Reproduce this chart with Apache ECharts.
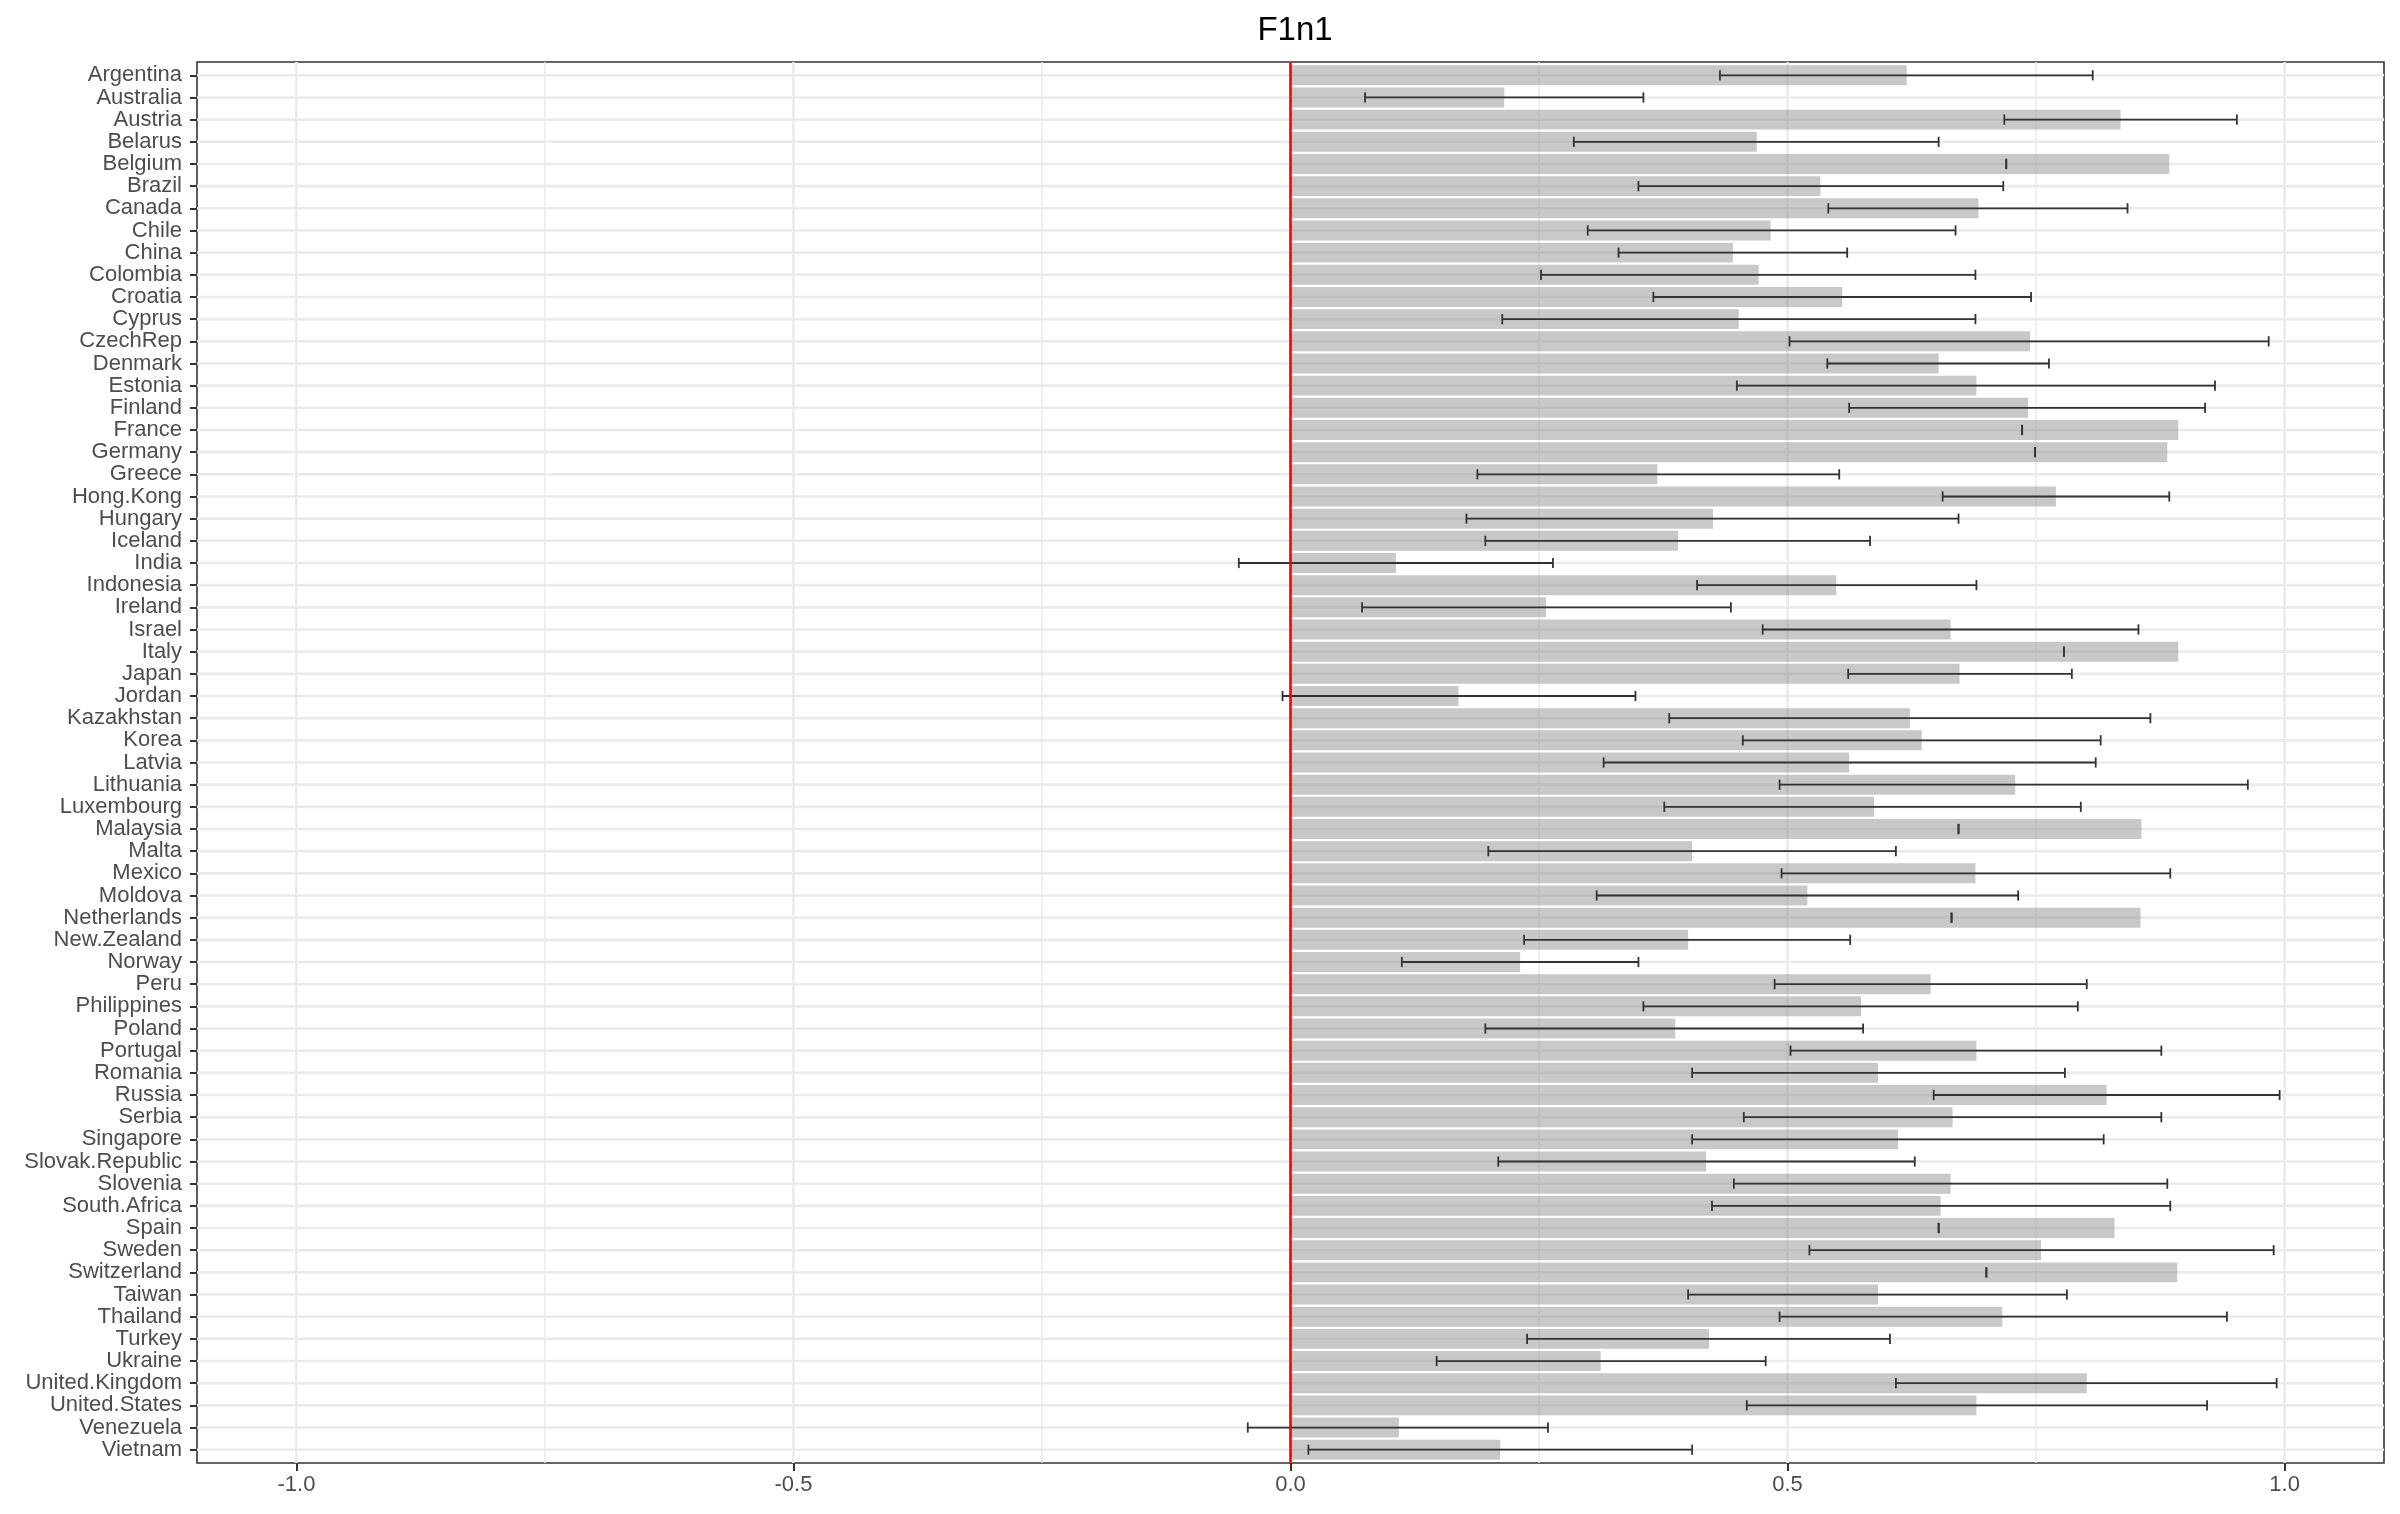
<!DOCTYPE html>
<html>
<head>
<meta charset="utf-8">
<script src="https://cdn.jsdelivr.net/npm/echarts@6/dist/echarts.min.js"></script>
<style>
  html, body { margin: 0; padding: 0; background: #ffffff; }
  #chart { width: 2400px; height: 1514px; }
</style>
</head>
<body>
<div id="chart"></div>
<script>
const titleText = 'F1n1';
const categories = ['Argentina','Australia','Austria','Belarus','Belgium','Brazil','Canada','Chile','China','Colombia','Croatia','Cyprus','CzechRep','Denmark','Estonia','Finland','France','Germany','Greece','Hong.Kong','Hungary','Iceland','India','Indonesia','Ireland','Israel','Italy','Japan','Jordan','Kazakhstan','Korea','Latvia','Lithuania','Luxembourg','Malaysia','Malta','Mexico','Moldova','Netherlands','New.Zealand','Norway','Peru','Philippines','Poland','Portugal','Romania','Russia','Serbia','Singapore','Slovak.Republic','Slovenia','South.Africa','Spain','Sweden','Switzerland','Taiwan','Thailand','Turkey','Ukraine','United.Kingdom','United.States','Venezuela','Vietnam'];
const means = [0.620,0.215,0.835,0.469,0.884,0.533,0.692,0.483,0.445,0.471,0.555,0.451,0.744,0.652,0.690,0.742,0.893,0.882,0.369,0.770,0.425,0.390,0.106,0.549,0.257,0.664,0.893,0.673,0.169,0.623,0.635,0.562,0.729,0.587,0.856,0.404,0.689,0.520,0.855,0.400,0.231,0.644,0.574,0.387,0.690,0.591,0.821,0.666,0.611,0.418,0.664,0.654,0.829,0.755,0.892,0.591,0.716,0.421,0.312,0.801,0.690,0.109,0.211];
const lower = [0.432,0.075,0.718,0.285,0.720,0.350,0.541,0.299,0.330,0.252,0.365,0.213,0.502,0.540,0.449,0.562,0.736,0.749,0.188,0.656,0.177,0.196,-0.052,0.409,0.072,0.475,0.778,0.561,-0.008,0.381,0.455,0.315,0.492,0.376,0.672,0.199,0.494,0.308,0.665,0.235,0.112,0.487,0.355,0.196,0.503,0.404,0.647,0.456,0.404,0.209,0.446,0.424,0.652,0.522,0.700,0.400,0.492,0.238,0.147,0.609,0.459,-0.043,0.018];
const upper = [0.807,0.355,0.952,0.652,0.720,0.717,0.842,0.669,0.560,0.689,0.745,0.689,0.984,0.763,0.930,0.920,0.736,0.749,0.552,0.884,0.672,0.583,0.264,0.690,0.443,0.853,0.778,0.786,0.347,0.865,0.815,0.810,0.963,0.795,0.672,0.609,0.885,0.732,0.665,0.563,0.350,0.801,0.792,0.576,0.876,0.779,0.995,0.876,0.818,0.628,0.882,0.885,0.652,0.989,0.700,0.781,0.942,0.603,0.478,0.992,0.922,0.259,0.404];
const xTickValues = [-1.0, -0.5, 0.0, 0.5, 1.0];
const xMinorValues = [-0.75, -0.25, 0.25, 0.75];
const refLineValue = [0];

const idx = categories.map((c, i) => i);
const font = '"Liberation Sans", Arial, Helvetica, sans-serif';

const chart = echarts.init(document.getElementById('chart'), null, { renderer: 'canvas' });

function vLineSeries(name, values, color, width, z) {
  return {
    name: name, type: 'custom', z: z, silent: true, clip: true,
    data: values.map(v => [v]),
    encode: { x: 0 },
    renderItem: function (params, api) {
      const cs = params.coordSys;
      const x = api.coord([api.value(0), 0])[0];
      return { type: 'line', shape: { x1: x, y1: cs.y, x2: x, y2: cs.y + cs.height },
        style: { stroke: color, lineWidth: width } };
    }
  };
}

const option = {
  backgroundColor: '#ffffff',
  animation: false,
  title: {
    text: titleText, left: 1290, textAlign: 'center', top: 9,
    textStyle: { fontFamily: font, fontSize: 33, fontWeight: 'normal', color: '#000000' }
  },
  grid: {
    left: 197, right: 16, top: 62, bottom: 51,
    show: true, borderColor: '#333333', borderWidth: 1.6, backgroundColor: 'transparent'
  },
  xAxis: {
    type: 'value', min: -1.1, max: 1.1, position: 'bottom',
    axisLine: { show: false, onZero: false },
    splitLine: { show: false },
    axisTick: { show: true, customValues: xTickValues, length: 8, lineStyle: { color: '#333333', width: 2 } },
    axisLabel: { customValues: xTickValues, margin: 11, fontFamily: font, fontSize: 22, color: '#4d4d4d',
      formatter: v => v.toFixed(1) }
  },
  yAxis: {
    type: 'value', min: -0.6, max: categories.length - 1 + 0.6, inverse: true, position: 'left',
    axisLine: { show: false, onZero: false },
    splitLine: { show: false },
    axisTick: { show: true, customValues: idx, length: 7, lineStyle: { color: '#333333', width: 2 } },
    axisLabel: { customValues: idx, margin: 15, fontFamily: font, fontSize: 22, color: '#4d4d4d',
      formatter: v => categories[Math.round(v)] }
  },
  series: [
    vLineSeries('minorGrid', xMinorValues, '#ebebeb', 1.4, 0),
    vLineSeries('majorGrid', xTickValues, '#ebebeb', 2.6, 0),
    {
      name: 'hGrid', type: 'custom', z: 0, silent: true, clip: true,
      data: idx.map(i => [0, i]),
      encode: { x: 0, y: 1 },
      renderItem: function (params, api) {
        const cs = params.coordSys;
        const y = api.coord([0, api.value(1)])[1];
        return { type: 'line', shape: { x1: cs.x, y1: y, x2: cs.x + cs.width, y2: y },
          style: { stroke: '#ebebeb', lineWidth: 2.6 } };
      }
    },
    {
      name: 'bars', type: 'custom', z: 2, clip: true,
      data: means.map((m, i) => [m, i]),
      encode: { x: 0, y: 1 },
      renderItem: function (params, api) {
        const i = api.value(1);
        const p0 = api.coord([0, i]);
        const p1 = api.coord([api.value(0), i]);
        const h = api.size([0, 1])[1] * 0.9;
        return { type: 'rect', shape: { x: Math.min(p0[0], p1[0]), y: p0[1] - h / 2, width: Math.abs(p1[0] - p0[0]), height: h },
          style: { fill: 'rgba(145,145,145,0.5)' } };
      }
    },
    {
      name: 'errors', type: 'custom', z: 3, clip: true,
      data: lower.map((l, i) => [l, upper[i], i]),
      encode: { x: [0, 1], y: 2 },
      renderItem: function (params, api) {
        const i = api.value(2);
        const a = api.coord([api.value(0), i]);
        const b = api.coord([api.value(1), i]);
        const c = api.size([0, 1])[1] * 0.23;
        const st = { stroke: '#333333', lineWidth: 1.8 };
        return { type: 'group', children: [
          { type: 'line', shape: { x1: a[0], y1: a[1], x2: b[0], y2: b[1] }, style: st },
          { type: 'line', shape: { x1: a[0], y1: a[1] - c, x2: a[0], y2: a[1] + c }, style: st },
          { type: 'line', shape: { x1: b[0], y1: b[1] - c, x2: b[0], y2: b[1] + c }, style: st }
        ] };
      }
    },
    vLineSeries('zeroLine', refLineValue, '#ff0000', 2.6, 5)
  ]
};
chart.setOption(option);
</script>
</body>
</html>
